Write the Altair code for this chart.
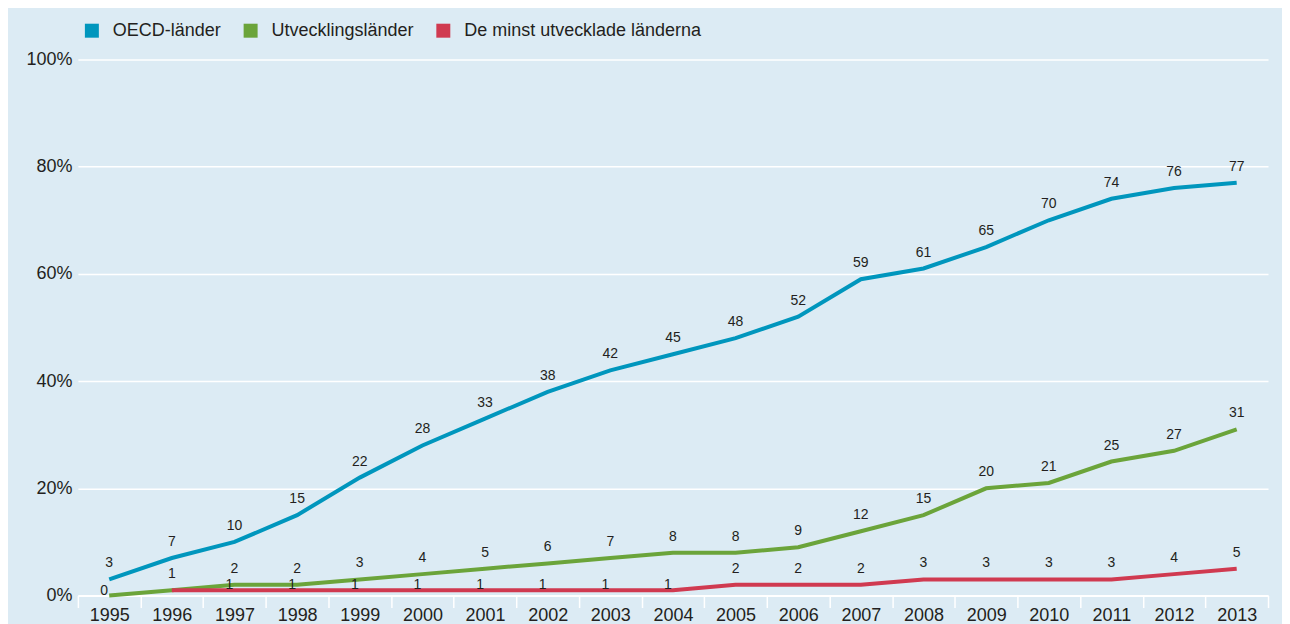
import altair as alt
import pandas as pd

years = list(range(1995, 2014))
oecd = [3, 7, 10, 15, 22, 28, 33, 38, 42, 45, 48, 52, 59, 61, 65, 70, 74, 76, 77]
utv = [0, 1, 2, 2, 3, 4, 5, 6, 7, 8, 8, 9, 12, 15, 20, 21, 25, 27, 31]
minst_years = list(range(1996, 2014))
minst = [1, 1, 1, 1, 1, 1, 1, 1, 1, 2, 2, 2, 3, 3, 3, 3, 4, 5]
minst_label_years = list(range(1997, 2014))

series = ["OECD-länder", "Utvecklingsländer", "De minst utvecklade länderna"]
colors = ["#0096BD", "#6BA43A", "#D03A50"]

rows = []
for y, v in zip(years, oecd):
    rows.append({"year": y, "value": v, "series": series[0], "lab": True, "low": False})
for y, v in zip(years, utv):
    rows.append({"year": y, "value": v, "series": series[1], "lab": True, "low": v == 0})
for y, v in zip(minst_years, minst):
    rows.append({"year": y, "value": v, "series": series[2],
                 "lab": y in minst_label_years, "low": v == 1})
df = pd.DataFrame(rows)

FONT = "Liberation Sans"
TXT = "#231F20"

xenc = alt.X("year:O", bandPosition=0.5,
             scale=alt.Scale(type="band", paddingInner=0, paddingOuter=0),
             axis=alt.Axis(title=None, tickBand="extent", labelAngle=0,
                           labelFontSize=18, labelColor=TXT, labelFont=FONT,
                           tickColor="white", tickWidth=1.5, tickSize=12,
                           domainColor="white", domainWidth=2, labelPadding=-1,
                           grid=False))
yenc = alt.Y("value:Q", scale=alt.Scale(domain=[0, 100]),
             axis=alt.Axis(title=None, values=[0, 20, 40, 60, 80, 100],
                           labelExpr="datum.value + '%'", labelFontSize=18,
                           labelColor=TXT, labelFont=FONT, ticks=False, domain=False,
                           gridColor="white", gridWidth=1.5, labelPadding=6))
color = alt.Color("series:N", scale=alt.Scale(domain=series, range=colors),
                  sort=series,
                  legend=alt.Legend(title=None, orient="none", legendX=5, legendY=-38,
                                    direction="horizontal", symbolType="square",
                                    symbolSize=49, symbolStrokeWidth=7, symbolOpacity=1,
                                    labelFontSize=18, labelColor=TXT, labelFont=FONT,
                                    labelLimit=0, labelOffset=12, columnPadding=11))

base = alt.Chart(df)
lines = base.mark_line(strokeWidth=4).encode(x=xenc, y=yenc, color=color,
                                               detail="series:N")
labels = base.transform_filter("datum.lab && !datum.low").mark_text(
    baseline="bottom", dy=-9, fontSize=14, font=FONT, color=TXT
).encode(x=alt.X("year:O", bandPosition=0.5), y="value:Q", text="value:Q")
labels_low = base.transform_filter("datum.lab && datum.low").mark_text(
    baseline="bottom", dy=2, dx=-5, fontSize=14, font=FONT, color=TXT
).encode(x=alt.X("year:O", bandPosition=0.5), y="value:Q", text="value:Q")

chart = alt.layer(lines, labels, labels_low).properties(
    width=1192, height=537,
    autosize=alt.AutoSizeParams(type="none"),
    padding={"left": 70, "top": 51, "right": 14, "bottom": 30},
    background="#DCEBF4",
).configure_view(strokeWidth=0)

chart.save("out.html", embed_options={"renderer": "svg", "actions": False})
